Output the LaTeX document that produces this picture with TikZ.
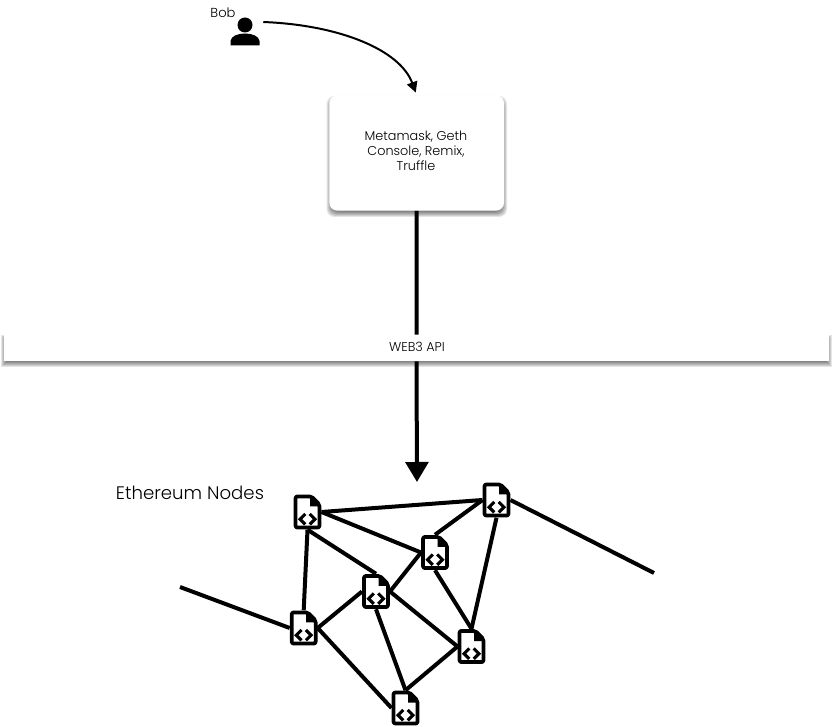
\documentclass[tikz,border=0pt]{standalone}
\usepackage{fontspec}
\setmainfont{Poppins}[UprightFont=* Light]
\usetikzlibrary{arrows.meta,backgrounds}
\tikzset{
  x=0.75pt,y=-0.75pt,
  docn/.style={inner sep=0pt,minimum width=20.6pt,minimum height=26.2pt},
  link/.style={line width=3pt,black},
  main/.style={line width=3pt,black},
  softshadow/.style={fill=black,fill opacity=0.1,draw=none},
  panel/.style={fill=white,draw=none},
  lbl/.style={text=black,inner sep=0pt,align=center},
}
\newcommand{\docicon}[1]{%
  \begin{scope}[shift={(#1.center)}]
    \fill[white] (-12,-15.6) -- (4,-15.6) -- (12,-7) -- (12,15.6) -- (-12,15.6) -- cycle;
    \draw[line width=2.8pt,line join=round,rounded corners=1.5pt] (-12,-15.6) -- (4,-15.6) -- (12,-7.5) -- (12,15.6) -- (-12,15.6) -- cycle;
    \fill[black] (2.5,-16.5) -- (13.4,-5.5) -- (2.5,-5.5) -- cycle;
    \draw[line width=2.3pt] (-2.2,2) -- (-7.4,7.2) -- (-2.2,12.4);
    \draw[line width=2.3pt] (2.2,2) -- (7.4,7.2) -- (2.2,12.4);
  \end{scope}}
\newcommand{\softrect}[5]{%
  \foreach \e in {-2,-1,0,1,2,3}{
    \fill[softshadow,rounded corners=#5] (#1-\e,#2+3-\e) rectangle (#3+\e,#4+3+\e);
  }}
\begin{document}
\begin{tikzpicture}
\useasboundingbox (0,0) rectangle (833,727);
\fill[white] (0,0) rectangle (833,727);

% nodes
\node[docn] (A) at (307.5,512) {};
\node[docn] (B) at (496.5,500) {};
\node[docn] (C) at (435,552.5) {};
\node[docn] (D) at (376,591.5) {};
\node[docn] (E) at (303.7,628) {};
\node[docn] (F) at (471.5,646.5) {};
\node[docn] (G) at (405.5,708) {};
\coordinate (freeR) at (654,573);
\coordinate (freeL) at (180,587);
\coordinate (nodesTop) at (417,482);
\node[inner sep=0pt,minimum width=27pt,minimum height=36pt] (bob) at (245,22) {};

% edges
\draw[link] (A.east) -- (B.west);
\draw[link] (A.east) -- (C.west);
\draw[link] (A.south) -- (D.north);
\draw[link] (A.south) -- (E.north);
\draw[link] (B.west) -- (C.north);
\draw[link] (B.south) -- (F.north);
\draw[link] (B.east) -- (freeR);
\draw[link] (C.west) -- (D.east);
\draw[link] (C.south) -- (F.north);
\draw[link] (D.west) -- (E.east);
\draw[link] (D.east) -- (F.west);
\draw[link] (D.south) -- (G.north);
\draw[link] (E.east) -- (G.west);
\draw[link] (E.west) -- (freeL);
\draw[link] (F.west) -- (G.north);

\foreach \n in {A,B,C,D,E,F,G}{\docicon{\n}}

% box and bar
\softrect{329.5}{96}{504}{211}{6pt}
\softrect{4}{335}{829}{361}{0pt}
\node[panel,rounded corners=6pt,minimum width=131pt,minimum height=86.5pt,inner sep=0pt] (box) at (416.7,153) {};
\node[panel,minimum width=618.7pt,minimum height=19.5pt,inner sep=0pt] (bar) at (416.5,348) {};
\node[lbl,font=\fontsize{9.6pt}{11.2pt}\selectfont] at (416,151) {Metamask, Geth\\Console, Remix,\\Truffle};
\node[lbl,font=\fontsize{9.6pt}{11pt}\selectfont] at (417,346.5) {WEB3 API};
\node[lbl,font=\fontsize{9.8pt}{11pt}\selectfont] at (223,13) {Bob};
\node[lbl,font=\fontsize{13.6pt}{16pt}\selectfont] at (190,492.5) {Ethereum Nodes};

% connectors
\draw[main] (box.south) -- (bar.north);
\draw[main,-{Triangle[length=15pt,width=17pt]}] (bar.south) -- (nodesTop);
\draw[line width=1.5pt,-{Triangle[length=8pt,width=8pt]},shorten >=2pt] (bob.east) .. controls (340,25) and (400,50) .. (box.north);

% person
\fill (245,25) circle (7.5);
\fill (230.5,45.5) -- (230.5,41) .. controls (231,36) and (238,33.5) .. (245,33.5) .. controls (252,33.5) and (259,36) .. (259.5,41) -- (259.5,45.5) -- cycle;
\end{tikzpicture}
\end{document}
